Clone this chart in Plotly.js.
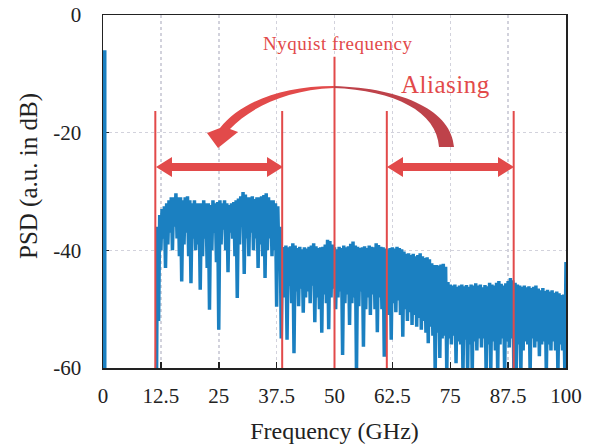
<!DOCTYPE html>
<html>
<head>
<meta charset="utf-8">
<script src="https://cdn.plot.ly/plotly-3.0.1.min.js"></script>
<style>
html,body{margin:0;padding:0;background:#fff;}
#chart{width:592px;height:444px;}
</style>
</head>
<body>
<div id="chart"></div>
<script>
// ---- data ----
const freqStart = 11.5;   // GHz, first sample of the measured band
const freqStep = 0.25;    // GHz between samples

// 11.5 - 38.75 GHz (signal band)
const psdSignal = [
  -70,-36,-52,-34,-40,-33,-38,-32.5,-43,-32,-39,-31.5,-37,-31,-40,-31,-36,-30.3,-38,-31,
  -41,-31,-45.3,-31.5,-39,-31,-37,-30.8,-41,-31.5,-45.6,-32,-38,-31.5,-40,-32,-39,-32,-46.7,-32,
  -41,-31.5,-38,-32,-43,-32,-50.1,-32.3,-40,-31.5,-37,-32,-42,-31.8,-53.5,-31.5,-39,-32,-36.5,-31.5,
  -40,-32,-43.7,-32.3,-37,-32,-38,-31.8,-41,-31.5,-48.1,-31.2,-39,-30.8,-36,-30.1,-44,-30.5,-38,-31,
  -41,-31,-37,-30.8,-40,-31.3,-38,-31,-43,-31,-39,-30.8,-41,-30.6,-44.7,-30.3,-40,-31,-38,-31.5,
  -41,-31.5,-40,-32,-49.6,-32.5,-42,-36,-55,-40
];
// 39 - 71.75 GHz
const psdMid = [
  -39.5,-48,-39.2,-55.2,-39.5,-46,-39.3,-49,-38.8,-57.5,-39.2,-47,-39.6,-49.5,-39.4,-46.5,-39.8,-50.6,-39.5,-48,
  -39.7,-47,-39.4,-49,-39.2,-46,-38.8,-52.2,-39.3,-48,-39.6,-50,-39.5,-54,-39.4,-47.5,-39,-49,-38.2,-53.4,
  -38.4,-48,-39,-46.5,-39.5,-50,-39.8,-48,-39.4,-47,-39.6,-57.8,-39.2,-49,-39.5,-47.5,-39.3,-52.7,-38.9,-49,
  -38.5,-48,-39.2,-61,-39.4,-49.5,-39.6,-47,-39.5,-56.4,-39.3,-50,-39.6,-48,-39.2,-51,-39.4,-47.5,-39.5,-50,
  -38.8,-53.9,-39.1,-48,-39.4,-50,-39.5,-58.1,-39.7,-49,-39.8,-51,-39.6,-55.2,-39.5,-49,-39.7,-50.5,-39.4,-48.5,
  -39.6,-51,-39.8,-54.7,-40.2,-50,-40.6,-52,-40.5,-50.5,-40.8,-52.7,-40.6,-51,-41,-53,-40.8,-51.5,-40.5,-53.5,
  -41,-52,-41.3,-54,-41.2,-55.8,-41.5,-53,-42.2,-54.5,-42.5,-61
];
// 72 - 100 GHz
const psdHigh = [
  -42.5,-54,-42.6,-58.3,-42.4,-55,-42.3,-54.5,-42.8,-61,-45.4,-55,-45.8,-56,-46,-54.5,-45.8,-59.2,-46.2,-55.5,
  -46,-56,-45.8,-61,-46.1,-55.2,-45.9,-61,-46.2,-56,-45.8,-61,-46,-55.5,-45.6,-57,-46,-55,-45.8,-56.5,
  -46.3,-55,-45.9,-61,-46.1,-56,-45.5,-61,-45.8,-55.5,-46,-57,-45.5,-61,-45.2,-56,-45.7,-55,-46,-61,
  -45.6,-55.5,-45.2,-56.5,-44.7,-55,-45.1,-61,-45.5,-61,-45.8,-56,-46,-61,-46.2,-57,-46,-55.5,-46.3,-56,
  -46.1,-61,-46.4,-55,-46.2,-56.5,-46,-55.5,-46.5,-58,-46.8,-56,-46.4,-55.5,-46.9,-61,-46.7,-56,-47,-57,
  -46.8,-55.5,-47.2,-57,-47,-61,-47.3,-56,-47.6,-57,-47.5,-61,-42
];
// DC component at 0 GHz
const dcFreq = [0, 0];
const dcPsd = [-6, -61];

// marker frequencies (GHz) and their top levels (dB)
const bandEdgeFreqs = [11.3, 38.7, 61.3, 88.7];
const bandEdgeTop = -16.3;
const nyquistFreq = 50;
const nyquistTop = -7.1;

const xTickVals = [0, 12.5, 25, 37.5, 50, 62.5, 75, 87.5, 100];
const xTickText = ['0', '12.5', '25', '37.5', '50', '62.5', '75', '87.5', '100'];
const yTickVals = [0, -20, -40, -60];
const yTickText = ['0', '-20', '-40', '-60'];

// ---- build ----
const psd = psdSignal.concat(psdMid, psdHigh);
const freq = psd.map((_, i) => freqStart + i * freqStep);

const BLUE = 'rgb(27,128,193)';
const RED = 'rgb(226,74,74)';
const DARKRED = 'rgb(190,66,74)';
const FONT = 'Liberation Serif, Times New Roman, serif';
const INK = '#222';

// layout frame (pixels) used only for placing the decorations
const L = 103, T = 15, W = 463, H = 353;
const X = px => (px - L) / W * 100;
const Y = py => -(py - T) / H * 60;
const conv = s => s.replace(/(-?\d+\.?\d*),(-?\d+\.?\d*)/g, (m, a, b) => X(+a).toFixed(3) + ',' + Y(+b).toFixed(3));

function dblArrow(px0, px1, py) {
  const hl = 16, hh = 10, bh = 4;
  return conv(`M${px0},${py} L${px0+hl},${py-hh} L${px0+hl},${py-bh} L${px1-hl},${py-bh} L${px1-hl},${py-hh} L${px1},${py} L${px1-hl},${py+hh} L${px1-hl},${py+bh} L${px0+hl},${py+bh} L${px0+hl},${py+hh} Z`);
}

const shapes = [];
bandEdgeFreqs.forEach(f => shapes.push({type:'line', xref:'x', yref:'y', x0:f, x1:f, y0:-60, y1:bandEdgeTop, line:{color:RED, width:2}, layer:'above'}));
shapes.push({type:'line', xref:'x', yref:'y', x0:nyquistFreq, x1:nyquistFreq, y0:-60, y1:nyquistTop, line:{color:RED, width:2}, layer:'above'});
shapes.push({type:'path', xref:'x', yref:'y', path: dblArrow(156, 283, 167), fillcolor:RED, line:{width:0}, layer:'above'});
shapes.push({type:'path', xref:'x', yref:'y', path: dblArrow(387, 514, 167), fillcolor:RED, line:{width:0}, layer:'above'});
// curved arrow: right (darker) half and left half with head
shapes.push({type:'path', xref:'x', yref:'y', path: conv('M333,86 C405,88 452,112 454,147 L439,147 C437,112 395,90 333,88 Z'), fillcolor:DARKRED, line:{width:0}, layer:'above'});
shapes.push({type:'path', xref:'x', yref:'y', path: conv('M334,86 C280,86 240,103 220,128 L207,133 L218,148 L238,132 L230,129 C250,108 285,90 334,88 Z'), fillcolor:RED, line:{width:0}, layer:'above'});

const annotations = [
  {xref:'x', yref:'y', x:X(337), y:Y(43), text:'<span style="letter-spacing:0.5px">Nyquist frequency</span>', showarrow:false, xanchor:'center', yanchor:'middle', font:{family:FONT, size:19, color:RED}},
  {xref:'x', yref:'y', x:X(445), y:Y(84), text:'<span style="letter-spacing:0.5px">Aliasing</span>', showarrow:false, xanchor:'center', yanchor:'middle', font:{family:FONT, size:25, color:RED}},
  {xref:'paper', yref:'paper', x:-(L-29)/W, y:1-(176-T)/H, text:'PSD (a.u. in dB)', textangle:-90, showarrow:false, xanchor:'center', yanchor:'middle', font:{family:FONT, size:25, color:INK}}
];

const traces = [
  {x: dcFreq, y: dcPsd, mode:'lines', line:{color:BLUE, width:7}, hoverinfo:'skip', showlegend:false},
  {x: freq, y: psd, mode:'lines', line:{color:BLUE, width:3.5}, showlegend:false}
];

const axisCommon = {
  showline:true, linecolor:INK, linewidth:1.5, mirror:true,
  showgrid:true, gridcolor:'#d2d2dc', gridwidth:1.5, griddash:'dot',
  zeroline:false, layer:'below traces', tickcolor:INK,
  ticks:'inside', ticklen:6, tickwidth:1.5,
  tickfont:{family:FONT, size:21, color:INK}
};

const layout = {
  width:592, height:444,
  margin:{l:L, r:592-L-W, t:T, b:444-T-H},
  paper_bgcolor:'#fff', plot_bgcolor:'#fff',
  showlegend:false,
  xaxis: Object.assign({}, axisCommon, {
    range:[0,100], tickmode:'array', tickvals:xTickVals, ticktext:xTickText,
    ticklabelstandoff:8,
    title:{text:'Frequency (GHz)', font:{family:FONT, size:24, color:INK}, standoff:16}
  }),
  yaxis: Object.assign({}, axisCommon, {
    range:[-60,0], tickmode:'array', tickvals:yTickVals, ticktext:yTickText,
    ticklabelstandoff:16
  }),
  shapes: shapes,
  annotations: annotations
};

Plotly.newPlot('chart', traces, layout, {displayModeBar:false, staticPlot:true});
</script>
</body>
</html>
